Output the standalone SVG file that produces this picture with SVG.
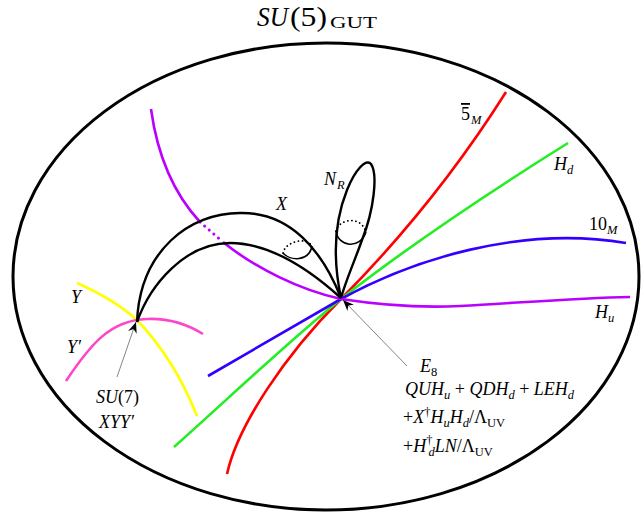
<svg xmlns="http://www.w3.org/2000/svg" width="641" height="515" viewBox="0 0 641 515">
<defs>
<marker id="ah" viewBox="-12 -5 13 10" refX="0" refY="0" markerWidth="13" markerHeight="10" markerUnits="userSpaceOnUse" orient="auto">
<path d="M0,0 L-11,-4.5 L-7.5,0 L-11,4.5 Z" fill="#000"/>
</marker>
<style>
.m{font-family:"Liberation Serif","DejaVu Serif",serif;font-style:italic;font-size:18px;fill:#000}
.up{font-style:normal}
.sb{font-size:12.5px}
.big{font-size:28px}
.mid{font-size:17px}
.c{fill:none;stroke-width:2.6}
.k{fill:none;stroke:#000;stroke-width:2.4}
.dot{fill:none;stroke:#000;stroke-width:1.8;stroke-dasharray:0.1 4;stroke-linecap:round}
.pdot{fill:none;stroke:#bb00ff;stroke-width:3;stroke-dasharray:0.1 6;stroke-linecap:round}
.ptr{fill:none;stroke:#666;stroke-width:0.8}
</style>
</defs>
<rect width="641" height="515" fill="#fff"/>

<g id="title">
<text class="m big" x="257" y="26" textLength="31" lengthAdjust="spacingAndGlyphs">SU</text>
<text class="m up big" x="290" y="26" textLength="37" lengthAdjust="spacingAndGlyphs">(5)</text>
<text class="m up mid" x="330" y="28" textLength="47" lengthAdjust="spacingAndGlyphs">GUT</text>
</g>

<g id="boundary">
<ellipse cx="326" cy="276.5" rx="313" ry="233.5" fill="none" stroke="#000" stroke-width="3"/>
</g>

<g id="curve-5M">
<path class="c" stroke="#ff0000" d="M227,474 C238,425 285,355 341,299 Q436,203 506,92"/>
<text class="m up" x="461" y="120" style="text-decoration:overline">5</text>
<text class="m sb" x="471" y="124">M</text>
</g>

<g id="curve-Hd">
<path class="c" stroke="#22ee22" d="M174,447 C230,397 290,340 341,299 C410,245 480,198 568,143"/>
<text class="m" x="554" y="170">H</text>
<text class="m sb" x="567" y="174">d</text>
</g>

<g id="curve-10M">
<path class="c" stroke="#3300ff" d="M208,376 L341,299 C412,260 520,225 626,243"/>
<text class="m up" x="589" y="230">10</text>
<text class="m sb" x="607" y="234">M</text>
</g>

<g id="curve-Hu">
<path class="c" stroke="#bb00ff" d="M151,109 C158,160 175,195 200,222"/>
<path class="pdot" d="M200,222 L223,242"/>
<path class="c" stroke="#bb00ff" d="M223,242 C255,268 300,290 341,299 C380,305 420,308 460,306 C530,302 580,298 630,297"/>
<text class="m" x="595" y="318">H</text>
<text class="m sb" x="608" y="322">u</text>
</g>

<g id="curve-Y">
<path class="c" stroke="#ffff00" d="M77,283 Q115,300 137,320 Q175,360 197,416"/>
<text class="m" x="71" y="303">Y</text>
</g>

<g id="curve-Yp">
<path class="c" stroke="#ff44cc" d="M66,381 C90,345 110,320 147,319 C170,318 190,326 203,334"/>
<text class="m" x="67" y="353">Y′</text>
</g>

<g id="tube-X">
<path class="k" d="M137,322 C140,250 190,213 240,213 C290,212 322,250 341,298"/>
<path class="k" d="M137,322 C150,285 185,243 230,243 C270,243 310,270 341,298"/>
<path fill="none" stroke="#000" stroke-width="1.6" d="M283,253 C290,261 309,262 312,246"/>
<path class="dot" d="M283,253 C285,242 306,236 312,246"/>
<text class="m" x="276" y="210">X</text>
</g>

<g id="loop-NR">
<path class="k" d="M341,298 C333,260 333,225 347,190 C355,170 366,158 371,164 C378,174 374,210 362,240 C355,260 346,280 341,298"/>
<path fill="none" stroke="#000" stroke-width="1.6" d="M336,231 C338,247 360,250 366,232"/>
<path class="dot" d="M336,231 C338,220 360,214 366,232"/>
<text class="m" x="324" y="185">N</text>
<text class="m sb" x="337" y="189">R</text>
</g>

<g id="node-E8">
<text class="m" x="420" y="372">E</text>
<text class="m up sb" x="431" y="376">8</text>
<text class="m" x="405" y="395">QUH<tspan class="sb" dy="4">u</tspan><tspan class="up" dy="-4"> + </tspan>QDH<tspan class="sb" dy="4">d</tspan><tspan class="up" dy="-4"> + </tspan>LEH<tspan class="sb" dy="4">d</tspan></text>
<text class="m" x="403" y="423"><tspan class="up">+</tspan>X<tspan class="up sb" dy="-7">†</tspan><tspan dy="7">H</tspan><tspan class="sb" dy="4">u</tspan><tspan dy="-4">H</tspan><tspan class="sb" dy="4">d</tspan><tspan class="up" dy="-4">/Λ</tspan><tspan class="up sb" dy="4">UV</tspan></text>
<text class="m" x="403" y="452"><tspan class="up">+</tspan>H<tspan class="up sb" dy="-8">†</tspan><tspan class="sb" dx="-4" dy="12">d</tspan><tspan dy="-4">LN</tspan><tspan class="up">/Λ</tspan><tspan class="up sb" dy="4">UV</tspan></text>
</g>

<g id="node-SU7">
<text class="m" x="96" y="403">SU<tspan class="up">(7)</tspan></text>
<text class="m" x="99" y="428">XYY′</text>
</g>

<g id="connectors">
<path class="ptr" d="M117,377 L136,322" marker-end="url(#ah)"/>
<path class="ptr" d="M407,366 L343,300" marker-end="url(#ah)"/>
</g>
</svg>
